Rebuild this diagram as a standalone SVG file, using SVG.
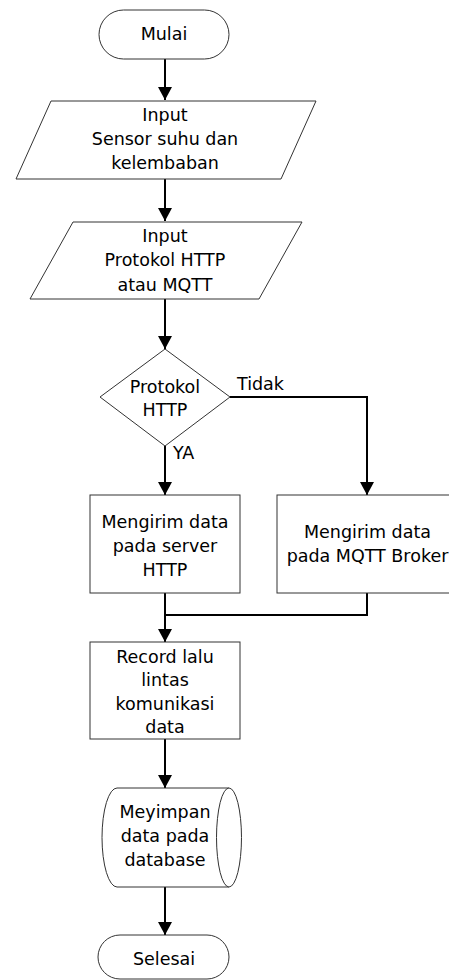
<svg xmlns="http://www.w3.org/2000/svg" width="449" height="980" viewBox="0 0 449 980">
<defs>
<marker id="arr" markerUnits="userSpaceOnUse" viewBox="0 0 13 14" refX="13" refY="7" markerWidth="13" markerHeight="14" orient="auto">
<path d="M0,0 L13,7 L0,14 Z" fill="#000"/>
</marker>
</defs>
<style>
.shape{fill:#fff;stroke:#333;stroke-width:1}
.conn{fill:none;stroke:#000;stroke-width:2}
text{font-family:"DejaVu Sans","Liberation Sans",sans-serif;font-size:17.5px;fill:#000;text-anchor:middle}
.lbl{text-anchor:start}
</style>
<rect width="449" height="980" fill="#fff"/>
<g id="connectors">
<path class="conn" d="M165,59 V100" marker-end="url(#arr)"/>
<path class="conn" d="M165,179 V221" marker-end="url(#arr)"/>
<path class="conn" d="M165,299 V349" marker-end="url(#arr)"/>
<path class="conn" d="M165,446 V495" marker-end="url(#arr)"/>
<path class="conn" d="M230,397 H367 V495" marker-end="url(#arr)"/>
<path class="conn" d="M165,593 V642" marker-end="url(#arr)"/>
<path class="conn" d="M367,593 V615 H165"/>
<path class="conn" d="M165,739 V788" marker-end="url(#arr)"/>
<path class="conn" d="M165,887 V935" marker-end="url(#arr)"/>
<text class="lbl" x="237" y="390">Tidak</text>
<text class="lbl" x="173" y="459">YA</text>
</g>
<g id="mulai">
<rect class="shape" x="99" y="10" width="130" height="49" rx="24.5" ry="24.5"/>
<text x="164" y="39.5">Mulai</text>
</g>
<g id="input-sensor">
<polygon class="shape" points="51,101 316,101 281,179 16,179"/>
<text x="165" y="121">Input</text>
<text x="165" y="145">Sensor suhu dan</text>
<text x="165" y="168.5">kelembaban</text>
</g>
<g id="input-protokol">
<polygon class="shape" points="73,222 302,222 259,299 30,299"/>
<text x="165" y="242">Input</text>
<text x="165" y="266">Protokol HTTP</text>
<text x="165" y="290.5">atau MQTT</text>
</g>
<g id="decision">
<polygon class="shape" points="165,349 230,397 165,446 100,397"/>
<text x="165" y="393">Protokol</text>
<text x="165" y="416">HTTP</text>
</g>
<g id="http">
<rect class="shape" x="90" y="495" width="150" height="98"/>
<text x="165" y="528">Mengirim data</text>
<text x="165" y="552">pada server</text>
<text x="165" y="575.5">HTTP</text>
</g>
<g id="mqtt">
<rect class="shape" x="277" y="495" width="181" height="98"/>
<text x="367.5" y="538">Mengirim data</text>
<text x="367.5" y="562">pada MQTT Broker</text>
</g>
<g id="record">
<rect class="shape" x="90" y="642" width="150" height="97"/>
<text x="165" y="663">Record lalu</text>
<text x="165" y="686">lintas</text>
<text x="165" y="709.5">komunikasi</text>
<text x="165" y="732.5">data</text>
</g>
<g id="database">
<path class="shape" d="M117,788 H229 A12.5,49.5 0 0 1 229,887 H117 A15,49.5 0 0 1 117,788 Z"/>
<path class="shape" fill="none" d="M229,788 A12.5,49.5 0 0 0 229,887"/>
<text x="165" y="818">Meyimpan</text>
<text x="165" y="842">data pada</text>
<text x="165" y="866">database</text>
</g>
<g id="selesai">
<rect class="shape" x="98" y="935" width="131" height="44" rx="22" ry="22"/>
<text x="164" y="965">Selesai</text>
</g>
</svg>
